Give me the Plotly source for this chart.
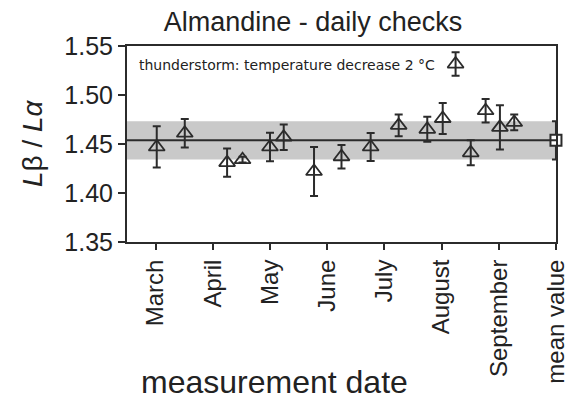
import plotly.graph_objects as go

# ---- data ----
tick_vals = [3, 4, 5, 6, 7, 8, 9, 10]
tick_text = ["March", "April", "May", "June", "July", "August", "September", "mean value"]

date_pos = [3.02, 3.51, 4.25, 4.52, 5.0, 5.24, 5.77, 6.25, 6.76, 7.25, 7.75, 8.02, 8.51, 8.77, 9.02, 9.27]
ratio = [1.447, 1.461, 1.431, 1.434, 1.447, 1.457, 1.422, 1.437, 1.447, 1.469, 1.465, 1.476,
         1.441, 1.484, 1.467, 1.472]
ratio_err = [0.021, 0.0145, 0.0145, 0.003, 0.0145, 0.013, 0.025, 0.012, 0.0143, 0.011, 0.0128,
             0.0158, 0.0128, 0.012, 0.0226, 0.008]

storm_pos = [8.245]
storm_ratio = [1.5316]
storm_err = [0.012]

mean_pos = [10]
mean_ratio = [1.4537]
mean_err = [0.0195]

FONT = "Liberation Sans, Arial, sans-serif"
DARK = "#2b2b2b"

fig = go.Figure()

# shaded band (mean +- std) and mean line
fig.add_hrect(y0=mean_ratio[0] - mean_err[0], y1=mean_ratio[0] + mean_err[0],
              fillcolor="#c9c9c9", line_width=0, layer="below")
fig.add_hline(y=mean_ratio[0], line=dict(color=DARK, width=2))

err_style = dict(type="data", thickness=2, width=4, color=DARK)

fig.add_trace(go.Scatter(
    x=date_pos, y=ratio, mode="markers",
    error_y=dict(array=ratio_err, **err_style),
    marker=dict(symbol="triangle-up-open", size=14, color=DARK, line=dict(width=1.8, color=DARK)),
    showlegend=False,
))
fig.add_trace(go.Scatter(
    x=storm_pos, y=storm_ratio, mode="markers",
    error_y=dict(array=storm_err, **err_style),
    marker=dict(symbol="triangle-up-open", size=14, color=DARK, line=dict(width=1.8, color=DARK)),
    showlegend=False,
))
fig.add_trace(go.Scatter(
    x=mean_pos, y=mean_ratio, mode="markers",
    error_y=dict(array=mean_err, **err_style),
    marker=dict(symbol="square", size=11, color="white", line=dict(width=2, color=DARK)),
    showlegend=False, cliponaxis=False,
))

fig.update_layout(
    width=570, height=405,
    margin=dict(l=127, r=14, t=46, b=163, autoexpand=False),
    plot_bgcolor="white", paper_bgcolor="white",
    font=dict(family=FONT, color="#222222"),
    title=dict(text="Almandine - daily checks", x=313 / 570, xanchor="center",
               y=1 - 22 / 405, yanchor="middle", font=dict(size=27, family=FONT, color="#222")),
    xaxis=dict(
        range=[2.5, 10.0005], tickmode="array", tickvals=tick_vals, ticktext=tick_text,
        tickangle=-90, ticks="outside", ticklen=6, tickwidth=2, tickcolor=DARK,
        ticklabeloverflow="allow", automargin=False,
        showline=True, linecolor=DARK, linewidth=2, mirror=True,
        showgrid=False, zeroline=False, tickfont=dict(size=24, family=FONT),
    ),
    yaxis=dict(
        range=[1.35, 1.55], tickvals=[1.35, 1.40, 1.45, 1.50, 1.55],
        ticktext=["1.35", "1.40", "1.45", "1.50", "1.55"],
        ticks="outside", ticklen=7, tickwidth=2, tickcolor=DARK, automargin=False,
        showline=True, linecolor=DARK, linewidth=2, mirror=True,
        showgrid=False, zeroline=False, tickfont=dict(size=25, family=FONT),
    ),
    annotations=[
        dict(text="thunderstorm: temperature decrease 2 °C", xref="paper", yref="paper",
             x=(137 - 127) / 429, y=(242 - 65) / 196, xanchor="left", yanchor="middle",
             showarrow=False, font=dict(size=14, family="DejaVu Sans, sans-serif", color="#222")),
        dict(text="measurement date", xref="paper", yref="paper",
             x=(274 - 127) / 429, y=(242 - 382) / 196, xanchor="center", yanchor="middle",
             showarrow=False, font=dict(size=32, family=FONT, color="#222")),
        dict(text="<i>L</i>β / <i>L</i><i>α</i>", xref="paper", yref="paper",
             x=(32 - 127) / 429, y=(242 - 143) / 196, xanchor="center", yanchor="middle",
             textangle=-90, showarrow=False, font=dict(size=28, family=FONT, color="#222")),
    ],
)

fig.write_html("out.html")
